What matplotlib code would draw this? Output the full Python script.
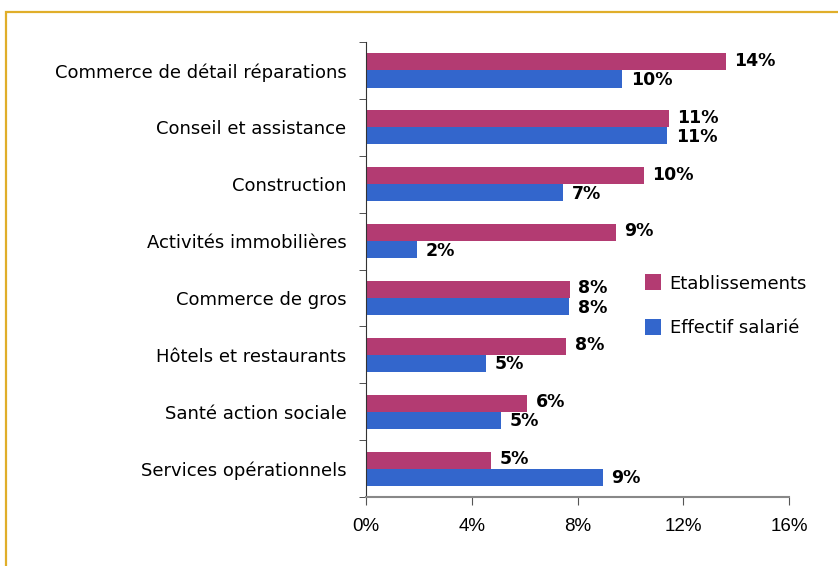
import matplotlib.pyplot as plt
import matplotlib.patches as mpatches
import numpy as np

# secteurs, du haut vers le bas
secteurs = ["Commerce de détail réparations", "Conseil et assistance", "Construction",
            "Activités immobilières", "Commerce de gros", "Hôtels et restaurants",
            "Santé action sociale", "Services opérationnels"]
etablissements = [13.6, 11.45, 10.5, 9.45, 7.7, 7.56, 6.1, 4.73]
effectif = [9.7, 11.4, 7.45, 1.93, 7.68, 4.55, 5.1, 8.96]
xticks = [0, 4, 8, 12, 16]

col_etab = "#B33B72"
col_eff = "#3366CC"
lab_font = ["DejaVu Sans"]

fig = plt.figure(figsize=(8.38, 5.66), dpi=100)
# cadre doré autour du graphique
fig.patches.append(mpatches.Rectangle((6 / 838, -0.05), 1.1, 1 - 12 / 566 + 0.05,
                                      transform=fig.transFigure, fill=False,
                                      edgecolor="#E0AE2A", linewidth=1.6))

ax = fig.add_axes([366 / 838, 1 - 497 / 566, 423 / 838, 455 / 566])

n = len(secteurs)
y = np.arange(n)[::-1].astype(float)
h = 0.3
ax.barh(y + h / 2, etablissements, height=h, color=col_etab, label="Etablissements")
ax.barh(y - h / 2, effectif, height=h, color=col_eff, label="Effectif salarié")

for yi, v in zip(y, etablissements):
    ax.text(v + 0.33, yi + h / 2 + 0.02, f"{round(v):.0f}%", va="center", ha="left",
            fontsize=12.5, fontweight="bold", family=lab_font)
for yi, v in zip(y, effectif):
    ax.text(v + 0.33, yi - h / 2 - 0.02, f"{round(v):.0f}%", va="center", ha="left",
            fontsize=12.5, fontweight="bold", family=lab_font)

ax.set_xlim(0, 16)
ax.set_ylim(-0.5, n - 0.5)
ax.set_xticks(xticks)
ax.set_xticklabels([f"{t}%" for t in xticks], fontsize=13.5, family=["Liberation Sans"])
ax.tick_params(axis="x", direction="out", length=6, pad=9, color="#555555")

ax.set_yticks(y)
ax.set_yticklabels(secteurs, fontsize=13, family=lab_font)
ax.set_yticks(np.arange(n + 1) - 0.5, minor=True)
ax.tick_params(axis="y", which="major", length=0, pad=14)
ax.tick_params(axis="y", which="minor", direction="out", length=5, color="#333333")

for s in ["top", "right"]:
    ax.spines[s].set_visible(False)
ax.spines["left"].set_color("#333333")
ax.spines["bottom"].set_color("#888888")
ax.spines["bottom"].set_linewidth(1.5)

ax.legend(loc="upper left", bbox_to_anchor=(629 / 838, 1 - 258 / 566),
          bbox_transform=fig.transFigure, frameon=False,
          prop={"family": lab_font, "size": 13}, handlelength=0.85, handleheight=1.0,
          handletextpad=0.5, labelspacing=1.45)

fig.savefig("out.png", dpi=100)
